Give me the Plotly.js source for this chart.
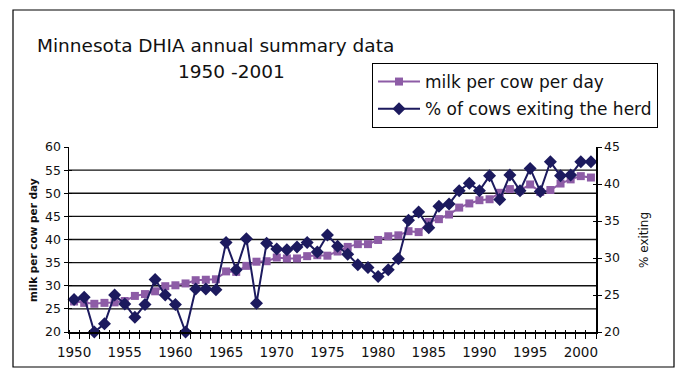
<!DOCTYPE html>
<html><head><meta charset="utf-8">
<script src="https://cdn.plot.ly/plotly-3.0.1.min.js"></script>
<style>html,body{margin:0;padding:0;background:#fff}#chart{width:680px;height:375px}</style>
</head><body><div id="chart"></div>
<script>
const years = [1950,1951,1952,1953,1954,1955,1956,1957,1958,1959,1960,1961,1962,1963,1964,1965,1966,1967,1968,1969,1970,1971,1972,1973,1974,1975,1976,1977,1978,1979,1980,1981,1982,1983,1984,1985,1986,1987,1988,1989,1990,1991,1992,1993,1994,1995,1996,1997,1998,1999,2000,2001];
const milkPerCowPerDay = [26.6,26.3,26.1,26.3,26.4,26.7,27.8,28.2,28.8,29.9,30.1,30.5,31.2,31.3,31.4,33.1,33.0,34.3,35.2,35.3,36.1,35.9,35.9,36.4,36.6,36.5,37.4,38.4,39.0,39.0,39.9,40.7,40.9,41.8,41.6,43.8,44.4,45.4,46.9,47.8,48.5,48.7,50.1,50.9,50.6,51.9,50.3,50.7,52.1,53.0,53.7,53.4];
const pctCowsExiting = [24.4,24.7,20.0,21.1,25.0,23.8,22.0,23.7,27.1,25.0,23.7,20.0,25.8,25.8,25.7,32.1,28.4,32.6,23.9,32.0,31.2,31.1,31.5,32.1,30.8,33.1,31.6,30.5,29.1,28.7,27.5,28.4,29.9,35.1,36.2,34.1,37.0,37.3,39.1,40.1,39.1,41.1,37.9,41.2,39.1,42.1,39.0,43.0,41.1,41.2,43.0,43.0];
const xTickYears = [1950,1955,1960,1965,1970,1975,1980,1985,1990,1995,2000];
const xTickLabels = ['1950','1955','1960','1965','1970','1975','1980','1985','1990','1995','2000'];
const leftTicks = [20,25,30,35,40,45,50,55,60];
const leftGridVals = [25,30,35,40,45,50,55];
const rightTicks = [20,25,30,35,40,45];
const seriesNames = ['milk per cow per day','% of cows exiting the herd'];
const titleLines = ['Minnesota DHIA annual summary data','1950 -2001'];
const leftAxisTitle = 'milk per cow per day';
const rightAxisTitle = '% exiting';

const L=69,R=596,T=147,B=332;
function px(x){return (x-L)/(R-L);}
function py(y){return (B-y)/(B-T);}
const FONT='DejaVu Sans';
const milkColor='#8d5ca6', exitColor='#1c1a5e';
const xRange=[1949.5,2001.5];

function helper(xa,ya){return {type:'scatter',mode:'markers',x:[],y:[],xaxis:xa,yaxis:ya,showlegend:false,hoverinfo:'skip'};}

const traces=[
 {x:years,y:milkPerCowPerDay,type:'scatter',mode:'lines+markers',name:seriesNames[0],legendgroup:'g1',
  xaxis:'x',yaxis:'y',cliponaxis:false,
  line:{color:milkColor,width:2},marker:{symbol:'square',size:8,color:milkColor}},
 {x:years,y:pctCowsExiting,type:'scatter',mode:'lines+markers',name:seriesNames[1],legendgroup:'g2',
  xaxis:'x',yaxis:'y2',cliponaxis:false,
  line:{color:exitColor,width:2},marker:{symbol:'diamond',size:10,color:exitColor}},
 helper('x2','y'), helper('x','y4'), helper('x','y5')
];

const gridShapes = leftGridVals.map(v=>({type:'line',xref:'paper',x0:0,x1:1,yref:'y',y0:v,y1:v,
  line:{color:'#111',width:1.3},layer:'below'}));

const layout={
 width:680,height:375,margin:{l:L,r:680-R,t:T,b:375-B},
 paper_bgcolor:'#fff',plot_bgcolor:'#fff',
 font:{family:FONT,color:'#111'},
 showlegend:true,
 legend:{x:px(372),y:py(63),xanchor:'left',yanchor:'top',bordercolor:'#000',borderwidth:1,bgcolor:'#fff',
   font:{family:FONT,size:17,color:'#111'},itemwidth:42,traceorder:'grouped',tracegroupgap:2},
 xaxis:{range:xRange,tickmode:'array',tickvals:xTickYears,ticktext:xTickLabels,ticks:'',ticklabelstandoff:7,
   showline:true,linecolor:'#000',linewidth:1.5,showgrid:false,zeroline:false,
   tickfont:{family:FONT,size:13.5,color:'#111'},
   minor:{tickmode:'linear',tick0:1949.5,dtick:1,ticks:'outside',ticklen:5,tickcolor:'#000',tickwidth:1,showgrid:false}},
 xaxis2:{overlaying:'x',anchor:'y',range:xRange,showticklabels:false,ticks:'',showline:false,showgrid:false,zeroline:false,
   minor:{tickmode:'linear',tick0:1949.5,dtick:1,ticks:'inside',ticklen:2,tickcolor:'#000',tickwidth:1,showgrid:false}},
 yaxis:{range:[20,60],tickmode:'array',tickvals:leftTicks,ticks:'outside',ticklen:4,tickcolor:'#000',
   showline:true,linecolor:'#000',linewidth:1.5,showgrid:false,zeroline:false,
   tickfont:{family:FONT,size:12.5,color:'#111'}},
 yaxis2:{overlaying:'y',side:'right',anchor:'x',range:[20,45],tickmode:'array',tickvals:rightTicks,ticks:'outside',ticklen:4,tickcolor:'#000',
   showline:true,linecolor:'#000',linewidth:1.5,showgrid:false,zeroline:false,
   tickfont:{family:FONT,size:12.5,color:'#111'}},
 yaxis4:{overlaying:'y',side:'left',anchor:'x',range:[20,60],tickmode:'array',tickvals:leftTicks,
   showgrid:false,ticks:'inside',ticklen:3,tickcolor:'#000',showticklabels:false,showline:false,zeroline:false},
 yaxis5:{overlaying:'y',side:'right',anchor:'x',range:[20,45],tickmode:'array',tickvals:rightTicks,
   showgrid:false,ticks:'inside',ticklen:3,tickcolor:'#000',showticklabels:false,showline:false,zeroline:false},
 annotations:[
  {xref:'paper',yref:'paper',x:px(215),y:py(45),text:titleLines[0],showarrow:false,xanchor:'center',yanchor:'middle',font:{family:FONT,size:18.5,color:'#111'}},
  {xref:'paper',yref:'paper',x:px(231),y:py(71),text:titleLines[1],showarrow:false,xanchor:'center',yanchor:'middle',font:{family:FONT,size:18.5,color:'#111'}},
  {xref:'paper',yref:'paper',x:px(33),y:py(240),text:leftAxisTitle,textangle:-90,showarrow:false,xanchor:'center',yanchor:'middle',font:{family:FONT,size:10.5,weight:'bold',color:'#111'}},
  {xref:'paper',yref:'paper',x:px(644),y:py(240),text:rightAxisTitle,textangle:-90,showarrow:false,xanchor:'center',yanchor:'middle',font:{family:FONT,size:12,color:'#111'}}
 ],
 shapes:[
  {type:'rect',xref:'paper',yref:'paper',x0:px(13),x1:px(674),y0:py(367),y1:py(10),line:{color:'#000',width:1.2},layer:'below'}
 ].concat(gridShapes)
};
Plotly.newPlot('chart',traces,layout,{displayModeBar:false,staticPlot:true});
</script></body></html>
